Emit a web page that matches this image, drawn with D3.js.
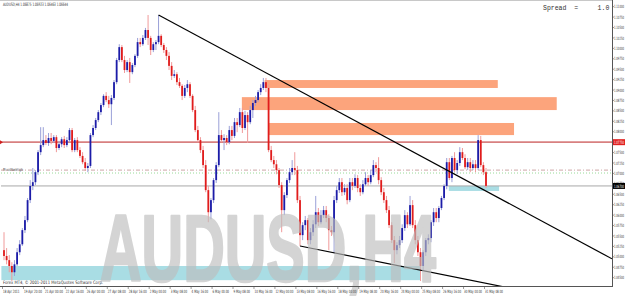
<!DOCTYPE html>
<html>
<head>
<meta charset="utf-8">
<script src="https://cdn.jsdelivr.net/npm/d3@7"></script>
<style>
  body { margin: 0; background: #fff; }
  svg { display: block; }
</style>
</head>
<body>
<div id="chart"></div>
<script>
// H4 bars, [open, high, low, close]
const bars = [
  [1.0516,1.0559,1.0492,1.0502],[1.0502,1.0521,1.0482,1.0492],[1.0492,1.0504,1.0463,1.0478],[1.0478,1.0487,1.0442,1.0463],
  [1.0463,1.0492,1.0454,1.0482],[1.0482,1.0521,1.0478,1.0511],[1.0511,1.0540,1.0504,1.0530],[1.0530,1.0569,1.0526,1.0564],
  [1.0564,1.0598,1.0557,1.0588],[1.0588,1.0641,1.0583,1.0636],[1.0636,1.0684,1.0629,1.0670],[1.0670,1.0713,1.0660,1.0679],
  [1.0679,1.0708,1.0672,1.0703],[1.0703,1.0756,1.0696,1.0751],[1.0751,1.0811,1.0744,1.0768],[1.0768,1.0811,1.0763,1.0780],
  [1.0780,1.0792,1.0768,1.0773],[1.0773,1.0797,1.0766,1.0785],[1.0785,1.0797,1.0770,1.0778],[1.0778,1.0792,1.0773,1.0787],
  [1.0787,1.0792,1.0751,1.0761],[1.0761,1.0778,1.0756,1.0770],[1.0770,1.0787,1.0763,1.0782],[1.0782,1.0790,1.0761,1.0768],
  [1.0768,1.0787,1.0763,1.0780],[1.0780,1.0809,1.0775,1.0804],[1.0804,1.0809,1.0751,1.0756],[1.0756,1.0785,1.0751,1.0780],
  [1.0780,1.0787,1.0751,1.0756],[1.0756,1.0763,1.0737,1.0742],[1.0742,1.0751,1.0722,1.0727],[1.0727,1.0737,1.0706,1.0713],
  [1.0713,1.0725,1.0703,1.0718],[1.0718,1.0797,1.0713,1.0792],[1.0792,1.0816,1.0787,1.0809],[1.0809,1.0833,1.0804,1.0828],
  [1.0828,1.0852,1.0823,1.0847],[1.0847,1.0869,1.0840,1.0864],[1.0864,1.0890,1.0859,1.0886],[1.0886,1.0895,1.0871,1.0876],
  [1.0876,1.0886,1.0857,1.0866],[1.0866,1.0888,1.0816,1.0881],[1.0881,1.0924,1.0876,1.0919],[1.0919,1.0977,1.0914,1.0972],
  [1.0972,1.1010,1.0967,1.1003],[1.1003,1.1008,1.0967,1.0972],[1.0972,1.0982,1.0941,1.0948],[1.0948,1.0972,1.0943,1.0967],
  [1.0967,1.0977,1.0917,1.0943],[1.0943,1.0965,1.0938,1.0960],[1.0960,1.0986,1.0955,1.0982],[1.0982,1.1025,1.0977,1.1015],
  [1.1015,1.1025,1.1003,1.1010],[1.1010,1.1032,1.1006,1.1025],[1.1025,1.1049,1.1020,1.1044],[1.1044,1.1080,1.1008,1.1025],
  [1.1025,1.1030,1.0984,1.0996],[1.0996,1.1015,1.0991,1.1010],[1.1010,1.1020,1.0996,1.1015],[1.1015,1.1080,1.1010,1.1030],
  [1.1030,1.1034,1.1003,1.1008],[1.1008,1.1013,1.0989,1.0996],[1.0996,1.1003,1.0972,1.0982],[1.0982,1.0991,1.0948,1.0958],
  [1.0958,1.0967,1.0924,1.0934],[1.0934,1.0948,1.0929,1.0938],[1.0938,1.0943,1.0912,1.0919],[1.0919,1.0929,1.0905,1.0910],
  [1.0910,1.0914,1.0876,1.0886],[1.0886,1.0912,1.0881,1.0905],[1.0905,1.0924,1.0895,1.0914],[1.0914,1.0919,1.0881,1.0886],
  [1.0886,1.0890,1.0847,1.0852],[1.0852,1.0862,1.0799,1.0804],[1.0804,1.0814,1.0775,1.0780],[1.0780,1.0787,1.0749,1.0756],
  [1.0756,1.0766,1.0713,1.0720],[1.0720,1.0732,1.0655,1.0660],[1.0660,1.0670,1.0583,1.0607],[1.0607,1.0641,1.0590,1.0636],
  [1.0636,1.0689,1.0629,1.0684],[1.0684,1.0727,1.0677,1.0720],[1.0720,1.0847,1.0715,1.0792],[1.0792,1.0804,1.0775,1.0780],
  [1.0780,1.0794,1.0756,1.0785],[1.0785,1.0792,1.0768,1.0775],[1.0775,1.0814,1.0770,1.0804],[1.0804,1.0814,1.0780,1.0790],
  [1.0790,1.0833,1.0785,1.0823],[1.0823,1.0833,1.0799,1.0816],[1.0816,1.0857,1.0811,1.0847],[1.0847,1.0857,1.0797,1.0809],
  [1.0809,1.0850,1.0804,1.0840],[1.0840,1.0847,1.0773,1.0823],[1.0823,1.0862,1.0818,1.0852],[1.0852,1.0876,1.0833,1.0869],
  [1.0869,1.0886,1.0862,1.0876],[1.0876,1.0900,1.0871,1.0895],[1.0895,1.0914,1.0888,1.0905],[1.0905,1.0929,1.0900,1.0919],
  [1.0919,1.0929,1.0895,1.0905],[1.0905,1.0914,1.0751,1.0756],[1.0756,1.0766,1.0727,1.0732],[1.0732,1.0742,1.0713,1.0722],
  [1.0722,1.0732,1.0698,1.0708],[1.0708,1.0713,1.0665,1.0672],[1.0672,1.0679,1.0559,1.0612],[1.0612,1.0655,1.0600,1.0648],
  [1.0648,1.0689,1.0641,1.0684],[1.0684,1.0713,1.0677,1.0703],[1.0703,1.0732,1.0696,1.0713],[1.0713,1.0751,1.0696,1.0708],
  [1.0708,1.0718,1.0629,1.0636],[1.0636,1.0646,1.0526,1.0552],[1.0552,1.0583,1.0540,1.0576],[1.0576,1.0598,1.0564,1.0588],
  [1.0588,1.0593,1.0530,1.0540],[1.0540,1.0569,1.0530,1.0559],[1.0559,1.0588,1.0550,1.0578],[1.0578,1.0646,1.0569,1.0607],
  [1.0607,1.0617,1.0574,1.0583],[1.0583,1.0612,1.0578,1.0600],[1.0600,1.0622,1.0593,1.0612],[1.0612,1.0622,1.0583,1.0593],
  [1.0593,1.0602,1.0516,1.0564],[1.0564,1.0574,1.0550,1.0559],[1.0559,1.0646,1.0509,1.0636],[1.0636,1.0670,1.0629,1.0660],
  [1.0660,1.0689,1.0653,1.0679],[1.0679,1.0689,1.0646,1.0655],[1.0655,1.0674,1.0648,1.0665],[1.0665,1.0674,1.0626,1.0636],
  [1.0636,1.0689,1.0631,1.0679],[1.0679,1.0689,1.0660,1.0670],[1.0670,1.0698,1.0665,1.0689],[1.0689,1.0696,1.0655,1.0665],
  [1.0665,1.0674,1.0646,1.0655],[1.0655,1.0684,1.0650,1.0674],[1.0674,1.0703,1.0670,1.0689],[1.0689,1.0696,1.0670,1.0679],
  [1.0679,1.0708,1.0674,1.0696],[1.0696,1.0732,1.0691,1.0720],[1.0720,1.0727,1.0703,1.0713],[1.0713,1.0739,1.0674,1.0684],
  [1.0684,1.0691,1.0648,1.0655],[1.0655,1.0665,1.0629,1.0636],[1.0636,1.0646,1.0605,1.0612],[1.0612,1.0622,1.0569,1.0576],
  [1.0576,1.0583,1.0533,1.0540],[1.0540,1.0550,1.0485,1.0516],[1.0516,1.0535,1.0506,1.0528],[1.0528,1.0550,1.0521,1.0540],
  [1.0540,1.0578,1.0533,1.0569],[1.0569,1.0612,1.0562,1.0600],[1.0600,1.0607,1.0569,1.0578],[1.0578,1.0646,1.0574,1.0624],
  [1.0624,1.0636,1.0569,1.0576],[1.0576,1.0588,1.0530,1.0540],[1.0540,1.0550,1.0502,1.0511],[1.0511,1.0521,1.0442,1.0478],
  [1.0478,1.0516,1.0468,1.0511],[1.0511,1.0545,1.0502,1.0540],[1.0540,1.0554,1.0530,1.0545],[1.0545,1.0588,1.0535,1.0583],
  [1.0583,1.0617,1.0574,1.0607],[1.0607,1.0617,1.0583,1.0593],[1.0593,1.0622,1.0583,1.0617],[1.0617,1.0646,1.0612,1.0641],
  [1.0641,1.0674,1.0636,1.0670],[1.0670,1.0737,1.0662,1.0727],[1.0727,1.0737,1.0684,1.0689],[1.0689,1.0742,1.0679,1.0737],
  [1.0737,1.0751,1.0703,1.0708],[1.0708,1.0732,1.0698,1.0725],[1.0725,1.0763,1.0718,1.0751],[1.0751,1.0761,1.0732,1.0737],
  [1.0737,1.0746,1.0710,1.0715],[1.0715,1.0737,1.0708,1.0727],[1.0727,1.0737,1.0703,1.0713],[1.0713,1.0732,1.0708,1.0722],
  [1.0722,1.0732,1.0703,1.0713],[1.0713,1.0792,1.0708,1.0780],[1.0780,1.0790,1.0715,1.0720],[1.0720,1.0727,1.0696,1.0703],
  [1.0703,1.0713,1.0665,1.0670]
];

// x axis labels, one every 8 bars
const timeLabels = ["18 Apr 2011","19 Apr 20:00","21 Apr 00:00","22 Apr 16:00","26 Apr 00:00","27 Apr 08:00",
  "28 Apr 16:00","2 May 00:00","3 May 08:00","4 May 16:00","6 May 00:00","9 May 08:00","10 May 16:00",
  "12 May 00:00","13 May 08:00","16 May 16:00","18 May 00:00","19 May 08:00","20 May 16:00","24 May 00:00",
  "25 May 08:00","26 May 16:00","30 May 00:00","31 May 08:00"];

const priceTicks = [1.0450,1.0475,1.0500,1.0525,1.0550,1.0575,1.0600,1.0625,1.0650,1.0675,1.0700,1.0725,1.0750,
  1.0775,1.0800,1.0825,1.0850,1.0875,1.0900,1.0925,1.0950,1.0975,1.1000,1.1025,1.1050,1.1075,1.1100];

// rectangles: [fromBar, toBar, topPrice, bottomPrice]
const supplyZones = [[99.5, 188.5, 1.0924, 1.0905], [90.8, 211, 1.0883, 1.0852], [100.8, 194.7, 1.0821, 1.0792]];
const demandZones = [[-1, 158.8, 1.0478, 1.0444], [169.8, 189, 1.0670, 1.0658]];

// trendlines: [bar1, price1, bar2, price2], extended to the right
const trendLines = [[59, 1.1080, 170, 1.0705], [113, 1.0526, 159, 1.0468]];

const resistanceLevel = 1.0775;
const pivotLevel = 1.0708;
const pivotLevel2 = 1.0701;
const headerQuote = "AUDUSD,H4  1.06875 1.06923 1.06463 1.06644";
const watermark = "AUDUSD,H4";

const width = 625, height = 296;
const plot = {left: 1, right: 612, top: 1, bottom: 286};

const x = d3.scaleLinear().domain([0, bars.length - 1]).range([4, 486]);
const y = d3.scaleLinear().domain([1.0430, 1.1116]).range([286, 0]);

const svg = d3.select("#chart").append("svg")
    .attr("width", width)
    .attr("height", height)
    .style("font-family", "'DejaVu Sans', sans-serif");

svg.append("defs").append("clipPath").attr("id", "clip")
  .append("rect")
    .attr("x", plot.left).attr("y", plot.top)
    .attr("width", plot.right - plot.left).attr("height", plot.bottom - plot.top);

const g = svg.append("g").attr("clip-path", "url(#clip)");

// zones
g.selectAll(".supply").data(supplyZones).join("rect")
    .attr("x", d => x(d[0])).attr("y", d => y(d[2]))
    .attr("width", d => x(d[1]) - x(d[0])).attr("height", d => y(d[3]) - y(d[2]))
    .attr("fill", "#fca47c");

g.selectAll(".demand").data(demandZones).join("rect")
    .attr("x", d => x(d[0])).attr("y", d => y(d[2]))
    .attr("width", d => x(d[1]) - x(d[0])).attr("height", d => y(d[3]) - y(d[2]))
    .attr("fill", "#a9dde4");

// big symbol watermark
svg.append("text")
    .attr("x", 100).attr("y", 281)
    .attr("font-family", "'Liberation Sans', Arial, sans-serif")
    .attr("font-weight", "bold")
    .attr("font-size", 95)
    .attr("textLength", 336)
    .attr("lengthAdjust", "spacingAndGlyphs")
    .attr("fill", "#bebebe")
    .attr("stroke", "#bebebe")
    .attr("stroke-width", 2.5)
    .attr("stroke-linejoin", "round")
    .attr("opacity", 0.65)
    .text(watermark);

// horizontal levels
g.append("line")
    .attr("x1", plot.left).attr("x2", plot.right)
    .attr("y1", y(resistanceLevel)).attr("y2", y(resistanceLevel))
    .attr("stroke", "#d88080").attr("stroke-width", 1.6);

g.append("line")
    .attr("x1", plot.left).attr("x2", plot.right)
    .attr("y1", y(pivotLevel)).attr("y2", y(pivotLevel))
    .attr("stroke", "#c09090").attr("stroke-width", 0.8)
    .attr("stroke-dasharray", "4,2,1,2");

g.append("line")
    .attr("x1", plot.left).attr("x2", plot.right)
    .attr("y1", y(pivotLevel2)).attr("y2", y(pivotLevel2))
    .attr("stroke", "#7fd07f").attr("stroke-width", 0.8)
    .attr("stroke-dasharray", "1,2");

const last = bars[bars.length - 1][3];
g.append("line")
    .attr("x1", plot.left).attr("x2", plot.right)
    .attr("y1", y(last)).attr("y2", y(last))
    .attr("stroke", "#a8a8a8").attr("stroke-width", 1);

// candles
const candles = g.append("g");
candles.selectAll("line").data(bars).join("line")
    .attr("x1", (d, i) => x(i)).attr("x2", (d, i) => x(i))
    .attr("y1", d => y(d[1])).attr("y2", d => y(d[2]))
    .attr("stroke", d => d[3] >= d[0] ? "#9aa0d8" : "#f09a9a")
    .attr("stroke-width", 1);

candles.selectAll("rect").data(bars).join("rect")
    .attr("x", (d, i) => x(i) - 0.9)
    .attr("width", 1.8)
    .attr("y", d => y(Math.max(d[0], d[3])))
    .attr("height", d => Math.max(1, Math.abs(y(d[0]) - y(d[3]))))
    .attr("fill", d => d[3] >= d[0] ? "#1c1ca8" : "#e01c1c");

// trendlines
trendLines.forEach(function(t) {
    const x1 = x(t[0]), y1 = y(t[1]), x2 = x(t[2]), y2 = y(t[3]);
    const slope = (y2 - y1) / (x2 - x1);
    g.append("line")
        .attr("x1", x1).attr("y1", y1)
        .attr("x2", plot.right).attr("y2", y1 + slope * (plot.right - x1))
        .attr("stroke", "#000").attr("stroke-width", 1.2);
});

// frame
svg.append("line").attr("x1", 0).attr("x2", plot.right).attr("y1", 0.5).attr("y2", 0.5)
    .attr("stroke", "#c8c8c8");
svg.append("line").attr("x1", plot.right + 0.5).attr("x2", plot.right + 0.5).attr("y1", 0).attr("y2", plot.bottom)
    .attr("stroke", "#555");
svg.append("line").attr("x1", 0).attr("x2", plot.right + 1).attr("y1", plot.bottom + 0.5).attr("y2", plot.bottom + 0.5)
    .attr("stroke", "#555");

// right price axis
const yAxis = svg.append("g");
yAxis.selectAll("line").data(priceTicks).join("line")
    .attr("x1", plot.right).attr("x2", plot.right + 2)
    .attr("y1", d => y(d)).attr("y2", d => y(d))
    .attr("stroke", "#555").attr("stroke-width", 0.6);
yAxis.selectAll("text").data(priceTicks).join("text")
    .attr("x", 614).attr("y", d => y(d) + 1.6)
    .attr("font-size", 4.4)
    .attr("textLength", 10)
    .attr("lengthAdjust", "spacingAndGlyphs")
    .attr("fill", "#333")
    .text(d => d.toFixed(5));

function priceTag(price, color) {
    svg.append("rect")
        .attr("x", plot.right + 1).attr("y", y(price) - 3)
        .attr("width", 12).attr("height", 6)
        .attr("fill", color);
    svg.append("text")
        .attr("x", 614).attr("y", y(price) + 1.6)
        .attr("font-size", 4.4)
        .attr("textLength", 10)
        .attr("lengthAdjust", "spacingAndGlyphs")
        .attr("fill", "#fff")
        .text(price.toFixed(5));
}
priceTag(resistanceLevel, "#e02020");
priceTag(last, "#000");

// left marker of the red level
svg.append("path")
    .attr("d", `M0,${y(resistanceLevel) - 2}L3,${y(resistanceLevel)}L0,${y(resistanceLevel) + 2}Z`)
    .attr("fill", "#d02020");

// time axis
const xAxis = svg.append("g");
xAxis.selectAll("line").data(timeLabels).join("line")
    .attr("x1", (d, i) => x(i * 8) - 1.5).attr("x2", (d, i) => x(i * 8) - 1.5)
    .attr("y1", plot.bottom).attr("y2", plot.bottom + 3)
    .attr("stroke", "#555").attr("stroke-width", 0.6);
xAxis.selectAll("text").data(timeLabels).join("text")
    .attr("x", (d, i) => x(i * 8) - 1)
    .attr("y", 293)
    .attr("font-size", 4.4)
    .attr("textLength", d => d.length * 1.5)
    .attr("lengthAdjust", "spacingAndGlyphs")
    .attr("fill", "#333")
    .text(d => d);

// small texts
svg.append("text")
    .attr("x", 3).attr("y", 5.5)
    .attr("font-size", 4.6)
    .attr("textLength", 65)
    .attr("lengthAdjust", "spacingAndGlyphs")
    .attr("fill", "#333")
    .text(headerQuote);

svg.append("text")
    .attr("x", 543).attr("y", 10)
    .attr("font-family", "'Liberation Mono', monospace")
    .attr("font-size", 6.5)
    .attr("fill", "#333")
    .attr("xml:space", "preserve")
    .style("white-space", "pre")
    .text("Spread  =     1.0");

svg.append("text")
    .attr("x", 3).attr("y", 283.5)
    .attr("font-size", 4.6)
    .attr("textLength", 100)
    .attr("lengthAdjust", "spacingAndGlyphs")
    .attr("fill", "#333")
    .text("Forex MT4, \u00a9 2001-2011 MetaQuotes Software Corp.");

svg.append("text")
    .attr("x", 3).attr("y", y(pivotLevel) + 1)
    .attr("font-size", 4)
    .attr("textLength", 20)
    .attr("lengthAdjust", "spacingAndGlyphs")
    .attr("fill", "#555")
    .text("PivotSwHigh");
</script>
</body>
</html>
